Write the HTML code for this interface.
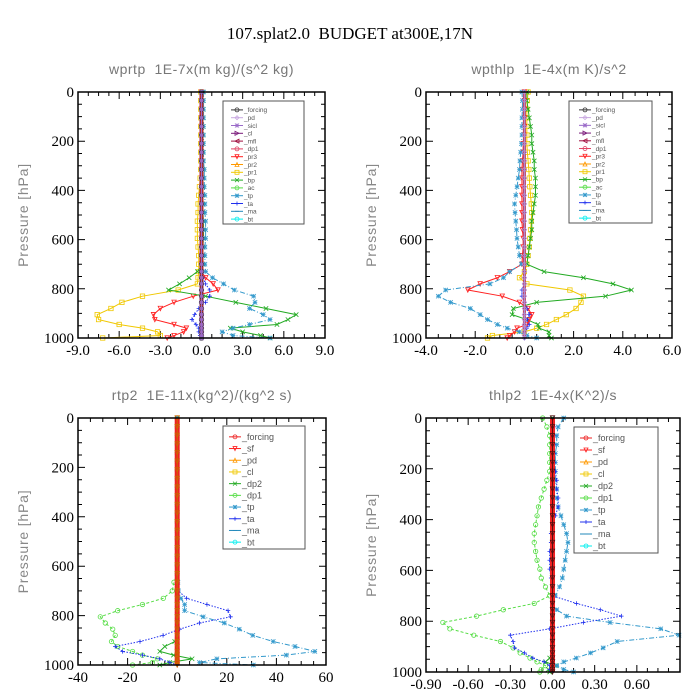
<!DOCTYPE html>
<html><head><meta charset="utf-8"><style>
html,body{margin:0;padding:0;background:#fff;}
svg{display:block;}
svg text{white-space:pre;}
</style></head><body>
<svg id="chart" width="700" height="700" viewBox="0 0 700 700" xmlns="http://www.w3.org/2000/svg">
<text x="350" y="39" text-anchor="middle" font-family="Liberation Serif, serif" font-size="17" xml:space="preserve">107.splat2.0  BUDGET at300E,17N</text>
</svg>
<script>
const LEVELS=[0,35,70,105,140,175,210,245,280,315,350,385,420,455,490,525,560,595,630,665,700,730,755,780,805,830,855,880,905,925,945,960,975,990,1000];
const ZERO=[0,0,0,0,0,0,0,0,0,0,0,0,0,0,0,0,0,0,0,0,0,0,0,0,0,0,0,0,0,0,0,0,0,0,0];
// panel 1 wprtp
const p1_pr1=[-0.05,-0.05,-0.05,-0.05,-0.05,-0.05,-0.05,-0.05,-0.05,-0.05,-0.1,-0.15,-0.2,-0.25,-0.25,-0.3,-0.3,-0.3,-0.25,-0.2,-0.2,-0.2,-0.25,-0.3,-1.7,-4.3,-5.8,-6.6,-7.6,-7.5,-6.0,-4.3,-3.2,-3.0,-7.2];
const p1_pr3=[0,0,0,0,0,0,0,0,0,0,0,0,0,0,0,0,0,0,0,0,0,0,0.3,0.85,1.2,-0.6,-2.0,-3.0,-3.5,-3.4,-2.0,-1.1,-1.3,-2.0,-2.5];
const p1_bp=[0.05,0.05,0.05,0.05,0.05,0.05,0.05,0.05,0.05,0.1,0.1,0.1,0.1,0.1,0.1,0.15,0.15,0.15,0.1,0.1,0.1,-0.3,-0.9,-1.6,-2.4,0.3,2.5,4.7,6.9,6.3,5.5,2.1,3.0,4.3,5.0];
const p1_tp=[0.15,0.15,0.15,0.15,0.15,0.15,0.15,0.15,0.15,0.2,0.2,0.2,0.25,0.25,0.25,0.3,0.3,0.3,0.25,0.25,0.25,0.3,0.8,1.6,2.4,3.8,3.9,3.5,4.5,5.0,3.5,2.3,1.5,2.3,5.0];
const p1_ta=[0,0,0,0,0,0,0,0,0,0,0,0,0,0,0,0,0,0,0,0,0,0,0.1,0.3,0.6,0.6,0.3,-0.2,-0.5,-0.7,-0.4,-0.2,-0.2,-0.1,-0.1];
// panel 2 wpthlp
const p2_bp=[0.1,0.1,0.15,0.2,0.25,0.3,0.3,0.35,0.4,0.4,0.45,0.45,0.45,0.4,0.35,0.3,0.3,0.25,0.2,0.15,0.1,0.8,2.4,3.6,4.35,3.3,0.5,-0.45,-0.5,0.1,0.55,0.6,1.0,1.0,1.1];
const p2_pr1=[0.15,0.12,0.1,0.1,0.1,0.1,0.1,0.12,0.15,0.18,0.2,0.22,0.25,0.28,0.3,0.28,0.25,0.22,0.2,0.15,0.1,0.0,-0.2,0.1,1.85,2.4,2.3,2.1,1.7,1.3,0.9,0.5,0.0,-1.3,-1.5];
const p2_pr3=[0,0,0,0,0,-0.02,-0.05,-0.05,-0.08,-0.1,-0.1,-0.1,-0.1,-0.1,-0.1,-0.1,-0.08,-0.05,-0.05,-0.08,-0.1,-0.6,-1.1,-1.8,-2.3,-0.9,-0.2,0.15,0.3,0.2,0.1,-0.3,-0.4,-0.6,-0.7];
const p2_tp=[-0.1,-0.08,-0.08,-0.1,-0.1,-0.1,-0.12,-0.15,-0.18,-0.2,-0.25,-0.3,-0.35,-0.4,-0.38,-0.35,-0.32,-0.3,-0.25,-0.2,-0.12,-0.6,-0.85,-1.4,-3.2,-3.5,-3.0,-2.2,-1.8,-1.5,-1.1,-0.7,-0.2,0.1,0.5];
const p2_ta=[0,0,0,0,0,0,0,0,0,0,0,0,0,0,0,0,0,0,0,0,0,0,0,0,-0.1,-0.1,0,0.1,0.2,0.1,0.2,0.1,0,0,0];
// panel 3 rtp2
const p3_dp1=[0,0,0,0,0,0,0,0,0,0,0,0,0,0,0,0,0,0,0,-1.3,-2,-5.6,-14,-24,-31,-29,-26,-25,-26.5,-24,-18,-14,-8,-10,-18];
const p3_dp2=[0,0,0,0,0,0,0,0,0,0,0,0,0,0,0,0,0,0,0,0,0,0,0,0,0,0,0,0,-1,-5,-7,-1.5,6,-3,-7];
const p3_ta=[0,0,0,0,0,0,0,0,0,0,0,0,0,0,0,0,0,0,0,0,0.5,3.8,12,20.5,21.5,9,1,-5.7,-15,-25,-22,-14,-7,-3,0];
const p3_tp=[0,0,0,0,0,0,0,0,0,0,0,0,0,0,0,0,0,0,0,0.3,0.5,1.5,3,3,10.5,19,25,30.5,38.7,47.5,55.5,44,16,9,30.7];
// panel 4 thlp2
const p4_dp1=[-0.07,-0.04,-0.02,-0.02,-0.02,-0.02,-0.02,-0.04,-0.06,-0.08,-0.1,-0.11,-0.12,-0.13,-0.13,-0.12,-0.11,-0.09,-0.08,-0.05,-0.02,-0.13,-0.35,-0.54,-0.78,-0.73,-0.56,-0.37,-0.28,-0.23,-0.16,-0.11,-0.05,-0.08,-0.09];
const p4_tp=[0.08,0.04,0.03,0.03,0.02,0.02,0.02,0.02,0.03,0.03,0.04,0.06,0.08,0.1,0.11,0.1,0.09,0.08,0.07,0.05,0.02,0.0,0.03,0.1,0.41,0.77,0.9,0.46,0.36,0.27,0.17,0.08,0.03,0.08,0.15];
const p4_ta=[0.01,0.01,0.01,0.01,0.01,0.01,0.02,0.03,0.03,0.04,0.04,0.02,0.0,-0.01,-0.01,-0.02,-0.02,-0.02,-0.01,0.0,0.0,0.17,0.34,0.49,0.22,-0.02,-0.3,-0.28,-0.27,-0.2,-0.14,-0.06,-0.02,-0.02,0.0];
const p4_dp2=[0,0,0,0,0,0,0,0,0,0,0,0,0,0,0,0,0,0,0,0,0,0,0,0,0,0,0,0,0,0,-0.02,-0.05,0.02,-0.03,-0.02];

const LEG_TOP=[["_forcing","#333","o"],["_pd","#c8a8e0","d"],["_sicl","#9a6ac8","*"],["_cl","#7a1a7a",">"],["_mfl","#a01040","<"],["_dp1","#e04060","o"],["_pr3","#ff2020","v"],["_pr2","#ff9900","^"],["_pr1","#f0c800","s"],["_bp","#22aa22","x"],["_ac","#55dd44","o"],["_tp","#3399cc","*"],["_ta","#2030ee","+"],["_ma","#2288bb","-"],["_bt","#00eeee","o"]];
const LEG_BOT=[["_forcing","#ee2222","o"],["_sf","#ff2020","v"],["_pd","#ff9900","^"],["_cl","#f0c800","s"],["_dp2","#22aa22","x"],["_dp1","#55dd44","o"],["_tp","#3399cc","*"],["_ta","#2030ee","+"],["_ma","#2288bb","-"],["_bt","#00eeee","o"]];

const NS="http://www.w3.org/2000/svg";
const svg=document.getElementById('chart');
function mk(tag,parent){const e=document.createElementNS(NS,tag);parent.appendChild(e);return e;}

function marker(g,type,x,y,col,r){
  let e;
  if(type==="o"){e=mk('circle',g);e.setAttribute('cx',x);e.setAttribute('cy',y);e.setAttribute('r',r);e.setAttribute('fill','none');e.setAttribute('stroke',col);}
  else if(type==="s"){e=mk('rect',g);e.setAttribute('x',x-r);e.setAttribute('y',y-r);e.setAttribute('width',2*r);e.setAttribute('height',2*r);e.setAttribute('fill','none');e.setAttribute('stroke',col);}
  else if(type==="v"||type==="^"||type==="<"||type===">"||type==="d"){
    let p;
    if(type==="v")p=[[x-r,y-r],[x+r,y-r],[x,y+r]];else if(type==="^")p=[[x-r,y+r],[x+r,y+r],[x,y-r]];
    else if(type==="<")p=[[x+r,y-r],[x+r,y+r],[x-r,y]];else if(type===">")p=[[x-r,y-r],[x-r,y+r],[x+r,y]];
    else p=[[x,y-r],[x+r,y],[x,y+r],[x-r,y]];
    e=mk('polygon',g);e.setAttribute('points',p.map(a=>a.join(',')).join(' '));e.setAttribute('fill','none');e.setAttribute('stroke',col);}
  else if(type==="-"){e=mk('line',g);e.setAttribute('x1',x-r);e.setAttribute('x2',x+r);e.setAttribute('y1',y);e.setAttribute('y2',y);e.setAttribute('stroke',col);}
  else {e=mk('path',g);let d="";
    if(type==="x"||type==="*")d+=`M${x-r},${y-r}L${x+r},${y+r}M${x-r},${y+r}L${x+r},${y-r}`;
    if(type==="+"||type==="*")d+=`M${x-r},${y}L${x+r},${y}M${x},${y-r}L${x},${y+r}`;
    e.setAttribute('d',d);e.setAttribute('stroke',col);e.setAttribute('fill','none');}
  e.setAttribute('stroke-width','0.8');
  
  
}

function panel(cfg){
  const g=mk('g',svg);
  
  
  const {L,R,T,B,x0,x1}=cfg;
  const sx=v=>L+(v-x0)/(x1-x0)*(R-L);
  const sy=p=>T+p/1000*(B-T);
  const t=mk('text',g);t.textContent=cfg.title;
  
  t.setAttribute('x',(L+R)/2);t.setAttribute('y',T-18);t.setAttribute('text-anchor','middle');
  t.setAttribute('font-family','Liberation Sans, sans-serif');t.setAttribute('font-size','14');t.setAttribute('fill','#777');t.setAttribute('letter-spacing','0.5');
  const yl=mk('text',g);yl.textContent='Pressure [hPa]';
  
  const cy=(T+B)/2;yl.setAttribute('transform',`translate(${L-50},${cy}) rotate(-90)`);
  yl.setAttribute('text-anchor','middle');yl.setAttribute('font-family','Liberation Sans, sans-serif');yl.setAttribute('font-size','14');yl.setAttribute('fill','#888');yl.setAttribute('letter-spacing','0.8');
  for(let p=0;p<=1000;p+=50){
    const major=p%200===0,len=major?7:4;
    const tk=mk('path',g);
    tk.setAttribute('d',`M${L},${sy(p)}h${len}M${R},${sy(p)}h${-len}`);tk.setAttribute('stroke','#000');tk.setAttribute('stroke-width','1');
    if(major){const lb=mk('text',g);lb.textContent=p;
      lb.setAttribute('x',L-4);lb.setAttribute('y',sy(p)+5);lb.setAttribute('text-anchor','end');lb.setAttribute('font-family','Liberation Serif, serif');lb.setAttribute('font-size','15');}
  }
  cfg.xticks.forEach((v,i)=>{
    const tk=mk('path',g);
    tk.setAttribute('d',`M${sx(v)},${B}v-7M${sx(v)},${T}v7`);tk.setAttribute('stroke','#000');
    const lb=mk('text',g);lb.textContent=cfg.xlabels[i];
    lb.setAttribute('x',sx(v));lb.setAttribute('y',B+17);lb.setAttribute('text-anchor','middle');lb.setAttribute('font-family','Liberation Serif, serif');lb.setAttribute('font-size','15');
    const step=cfg.xticks[1]-cfg.xticks[0];
    for(let k=1;k<4;k++){const m=v+step*k/4;if(m<=x1+1e-9){const mt=mk('path',g);
      mt.setAttribute('d',`M${sx(m)},${B}v-4M${sx(m)},${T}v4`);mt.setAttribute('stroke','#000');}}
  });
  cfg.series.forEach(s=>{
    const sg=mk('g',g);
    const pl=mk('polyline',sg);
    pl.setAttribute('points',s.vals.map((v,i)=>sx(v)+','+sy(LEVELS[i])).join(' '));
    pl.setAttribute('fill','none');pl.setAttribute('stroke',s.col);pl.setAttribute('stroke-width',s.w||1);
    if(s.dash)pl.setAttribute('stroke-dasharray',s.dash);
    if(s.m)s.vals.forEach((v,i)=>marker(sg,s.m,sx(v),sy(LEVELS[i]),s.col,2.2));
  });
  const fr=mk('rect',g);
  fr.setAttribute('x',L);fr.setAttribute('y',T);fr.setAttribute('width',R-L);fr.setAttribute('height',B-T);fr.setAttribute('fill','none');fr.setAttribute('stroke','#000');fr.setAttribute('stroke-width','1.5');
  const lg=mk('g',g);
  const lb=cfg.leg;
  const br=mk('rect',lg);
  br.setAttribute('x',lb.x);br.setAttribute('y',lb.y);br.setAttribute('width',lb.w);br.setAttribute('height',lb.h);br.setAttribute('fill','#fff');br.setAttribute('stroke','#555');
  const dy=(lb.h-6)/lb.items.length;
  lb.items.forEach((it,i)=>{
    const y=lb.y+5+dy*(i+0.5);
    const e=mk('g',lg);
    const ln=mk('line',e);ln.setAttribute('x1',lb.x+lb.sx);ln.setAttribute('x2',lb.x+lb.sx+12);ln.setAttribute('y1',y);ln.setAttribute('y2',y);ln.setAttribute('stroke',it[1]);
    
    marker(e,it[2],lb.x+lb.sx+6,y,it[1],2);
    const tx=mk('text',e);tx.textContent=it[0];
    tx.setAttribute('x',lb.x+lb.sx+13);tx.setAttribute('y',y+lb.fs*0.35);tx.setAttribute('font-family','Liberation Sans, sans-serif');tx.setAttribute('font-size',lb.fs);tx.setAttribute('fill','#555');
  });
}

panel({name:'panel-wprtp',title:'wprtp  1E-7x(m kg)/(s^2 kg)',L:78,R:325,T:92,B:338,x0:-9,x1:9,
  xticks:[-9,-6,-3,0,3,6,9],xlabels:['-9.0','-6.0','-3.0','0.0','3.0','6.0','9.0'],
  series:[{label:'-pr1',vals:p1_pr1,col:'#f0c800',m:'s'},{label:'-pr3',vals:p1_pr3,col:'#ff2020',m:'v'},
    {label:'-bp',vals:p1_bp,col:'#22aa22',m:'x'},{label:'-tp',vals:p1_tp,col:'#3399cc',m:'*',dash:'5,2,1,2'},
    {label:'-ta',vals:p1_ta,col:'#2030ee',m:'+',dash:'1.5,1.5'},{label:'-mfl',vals:ZERO,col:'#b03030',w:4},
    {label:'-forcing',vals:ZERO,col:'#333',m:'o'},{label:'-sicl',vals:ZERO,col:'#9a6ac8',m:'*'}],
  leg:{x:223,y:101,w:81,h:123,items:LEG_TOP,fs:6.5,sx:8}});

panel({name:'panel-wpthlp',title:'wpthlp  1E-4x(m K)/s^2',L:426,R:672,T:92,B:338,x0:-4,x1:6,
  xticks:[-4,-2,0,2,4,6],xlabels:['-4.0','-2.0','0.0','2.0','4.0','6.0'],
  series:[{label:'-pr1',vals:p2_pr1,col:'#f0c800',m:'s'},{label:'-bp',vals:p2_bp,col:'#22aa22',m:'x'},
    {label:'-pr3',vals:p2_pr3,col:'#ff2020',m:'v'},{label:'-tp',vals:p2_tp,col:'#3399cc',m:'*',dash:'5,2,1,2'},
    {label:'-ta',vals:p2_ta,col:'#2030ee',m:'+',dash:'1.5,1.5'},{label:'-mfl',vals:ZERO,col:'#c04060',w:3},
    {label:'-forcing',vals:ZERO,col:'#b090d8',m:'d'}],
  leg:{x:569,y:101,w:83,h:122,items:LEG_TOP,fs:6.5,sx:10}});

panel({name:'panel-rtp2',title:'rtp2  1E-11x(kg^2)/(kg^2 s)',L:78,R:326,T:418,B:665,x0:-40,x1:60,
  xticks:[-40,-20,0,20,40,60],xlabels:['-40','-20','0','20','40','60'],
  series:[{label:'-dp1',vals:p3_dp1,col:'#55dd44',m:'o',dash:'3,2'},{label:'-dp2',vals:p3_dp2,col:'#22aa22',m:'x'},
    {label:'-ta',vals:p3_ta,col:'#2030ee',m:'+',dash:'1.5,1.5'},{label:'-tp',vals:p3_tp,col:'#3399cc',m:'*',dash:'5,2,1,2'},
    {label:'-forcing',vals:ZERO,col:'#ee2222',w:5},{label:'-sf',vals:ZERO,col:'#cc6600',m:'v'}],
  leg:{x:223,y:426,w:82,h:123,items:LEG_BOT,fs:9,sx:6}});

panel({name:'panel-thlp2',title:'thlp2  1E-4x(K^2)/s',L:426,R:680,T:418,B:672,x0:-0.9,x1:0.907,
  xticks:[-0.9,-0.6,-0.3,0,0.3,0.6],xlabels:['-0.90','-0.60','-0.30','0.00','0.30','0.60'],
  series:[{label:'-dp1',vals:p4_dp1,col:'#55dd44',m:'o',dash:'3,2'},{label:'-dp2',vals:p4_dp2,col:'#22aa22',m:'x'},
    {label:'-tp',vals:p4_tp,col:'#3399cc',m:'*',dash:'5,2,1,2'},{label:'-ta',vals:p4_ta,col:'#2030ee',m:'+',dash:'1.5,1.5'},
    {label:'-forcing',vals:ZERO,col:'#ee2222',w:5},{label:'-sf',vals:ZERO,col:'#551111',m:'v'}],
  leg:{x:574,y:427,w:84,h:126,items:LEG_BOT,fs:9,sx:6}});
</script>
</body></html>
